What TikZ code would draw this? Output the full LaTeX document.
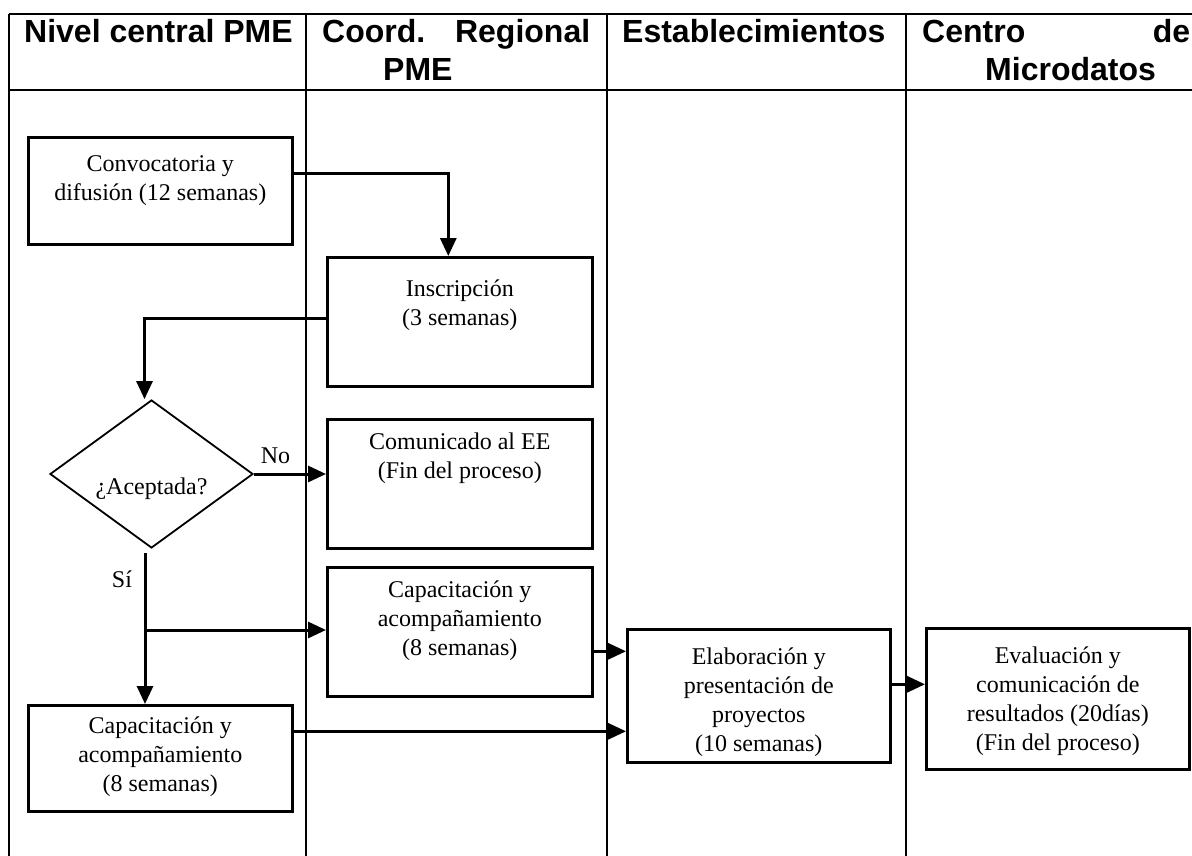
\documentclass[tikz,border=0pt]{standalone}
\usepackage{fontspec}
\setmainfont{Liberation Serif}
\newfontfamily\lanesans{Liberation Sans}
\usetikzlibrary{arrows.meta,shapes.geometric}

\newcommand{\bodytxt}{\fontsize{24}{29}\selectfont}
\newcommand{\lanetxt}{\lanesans\bfseries\fontsize{32}{38}\selectfont}
% text box of fixed size, text at the top
\newcommand{\boxtxt}[4][10]{\parbox[c][#3pt][t]{#2pt}{\centering\vspace*{#1pt}\strut #4}}

\begin{document}
\begin{tikzpicture}[x=1pt,y=-1pt,
    task/.style={rectangle,draw,line width=2.6pt,anchor=north west,
		inner sep=0pt,font=\bodytxt},
    decision/.style={diamond,draw,line width=1.8pt,inner sep=0pt,
		minimum width=203pt,minimum height=148pt,font=\bodytxt},
    head/.style={font=\lanetxt,anchor=base west,inner sep=0pt},
    lane/.style={line width=2.2pt},
    flow/.style={line width=3pt},
    >={Triangle[length=18pt,width=16pt]}
    ]
    \useasboundingbox (0,0) rectangle (1192,856);

    % Lanes
    \draw [lane,line width=2.8pt] (9,14) -- (1192,14);
    \draw [lane,line width=2.8pt] (9,90) -- (1192,90);
    \foreach \x in {9,306,607,906}
        \draw [lane] (\x,14) -- (\x,856);

    \node [head] (nivel) at (24,43) {Nivel central PME};
    \node [head] (coord) at (322,43) {\makebox[268pt]{Coord.\hfill Regional}};
    \node [head] (pme) at (383,81) {PME};
    \node [head] (estab) at (622,43) {Establecimientos};
    \node [head] (centro) at (922,43) {\makebox[268pt]{Centro\hfill de}};
    \node [head] (micro) at (985,81) {Microdatos};

    % Place nodes
    \node [task] (conv) at (27,136) {\boxtxt[14]{264}{107}{Convocatoria y\\difusión (12 semanas)}};
    \node [task] (insc) at (326,256) {\boxtxt[19]{265}{129}{Inscripción\\(3 semanas)}};
    \node [decision] (dec) at (151.5,474) {\raisebox{-20pt}[0pt][0pt]{¿Aceptada?}};
    \node [task] (comu) at (326,418) {\boxtxt{265}{129}{Comunicado al EE\\(Fin del proceso)}};
    \node [task] (capB) at (326,566) {\boxtxt{265}{129}{Capacitación y\\acompañamiento\\(8 semanas)}};
    \node [task] (capA) at (27,704) {\boxtxt[8]{264}{106}{Capacitación y\\acompañamiento\\(8 semanas)}};
    \node [task] (elab) at (626,628) {\boxtxt[15]{263}{133}{Elaboración y\\presentación de\\proyectos\\(10 semanas)}};
    \node [task] (eval) at (925,627) {\boxtxt[15]{263}{141}{Evaluación y\\comunicación de\\resultados (20días)\\(Fin del proceso)}};
    \node [font=\bodytxt] (si) at (122,579) {Sí};
    \coordinate (split) at (145,630);

    % Draw edges
    \draw [flow,->] ([yshift=17.5]conv.east) -| ([xshift=-11.5]insc.north);
    \draw [flow,->] ([yshift=3.5]insc.west) -| ([xshift=-7]dec.north);
    \draw [flow,->] (dec.east) -- node [above=5pt,pos=0.3,font=\bodytxt] (no) {No} (dec.east -| comu.west);
    \draw [flow] ([xshift=-6.5,yshift=-4]dec.south) -- (split);
    \draw [flow,->] (split) -- (split |- capA.north);
    \draw [flow,->] (split) -- (split -| capB.west);
    \draw [flow,->] ([yshift=-19.5]capB.east) -- ([yshift=-19.5]capB.east -| elab.west);
    \draw [flow,->] ([yshift=27]capA.east) -- ([yshift=27]capA.east -| elab.west);
    \draw [flow,->] ([yshift=11.5]elab.east) -- ([yshift=11.5]elab.east -| eval.west);
\end{tikzpicture}
\end{document}
